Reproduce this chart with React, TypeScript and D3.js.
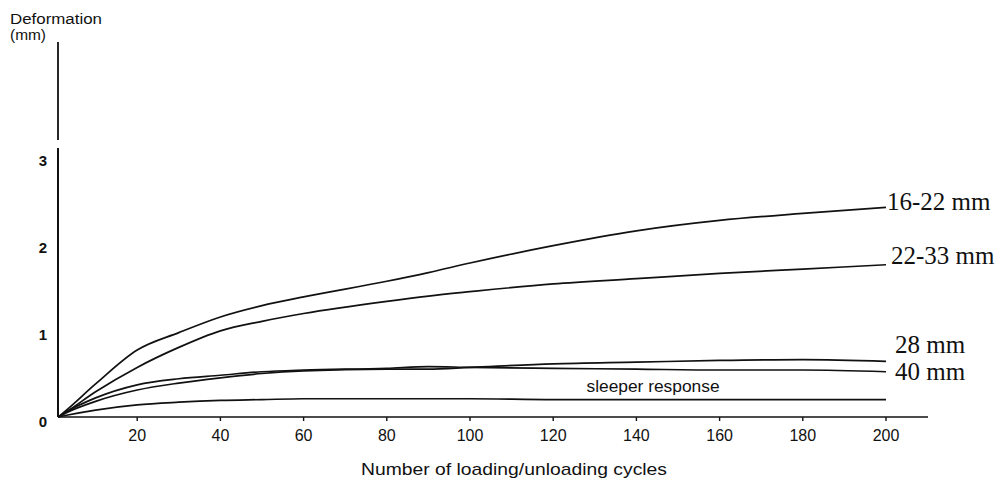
import React from "react";
import * as d3 from "d3";

const cycles = [1, 3, 10, 20, 30, 40, 50, 60, 80, 90, 100, 120, 140, 160, 180, 200];
const s1622 = [0, 0.08, 0.38, 0.77, 0.97, 1.15, 1.28, 1.38, 1.56, 1.66, 1.77, 1.97, 2.14, 2.26, 2.34, 2.41];
const s2233 = [0, 0.06, 0.29, 0.57, 0.8, 0.99, 1.1, 1.19, 1.33, 1.39, 1.44, 1.53, 1.59, 1.65, 1.7, 1.75];
const s28 = [0, 0.05, 0.18, 0.31, 0.39, 0.45, 0.5, 0.53, 0.55, 0.55, 0.57, 0.61, 0.63, 0.65, 0.66, 0.64];
const s40 = [0, 0.06, 0.22, 0.37, 0.44, 0.48, 0.52, 0.54, 0.56, 0.58, 0.57, 0.56, 0.55, 0.54, 0.54, 0.52];
const sSleeper = [0, 0.02, 0.08, 0.14, 0.17, 0.19, 0.2, 0.21, 0.21, 0.21, 0.21, 0.2, 0.2, 0.2, 0.2, 0.2];

const seriesNames = ["16-22 mm", "22-33 mm", "28 mm", "40 mm", "sleeper response"];
const seriesValues = [s1622, s2233, s28, s40, sSleeper];

const xTicks = [20, 40, 60, 80, 100, 120, 140, 160, 180, 200];
const yTicks = [0, 1, 2, 3];

// label placement offsets (styles, not data)
const labelOffsets = [
  { dx: 1, dy: 3 },
  { dx: 5, dy: -1 },
  { dx: 9, dy: -8 },
  { dx: 9, dy: 8 },
];

export default function App() {
  const W = 1003;
  const H = 484;
  const x = d3.scaleLinear().domain([0, 200]).range([54, 886]);
  const y = d3.scaleLinear().domain([0, 3]).range([417, 156]);
  const axisX = 58;

  const line = d3
    .line<[number, number]>()
    .x((d) => x(d[0]))
    .y((d) => y(d[1]))
    .curve(d3.curveMonotoneX);

  const sans = "'Liberation Sans', Arial, Helvetica, sans-serif";
  const serif = "'Liberation Serif', 'Times New Roman', serif";

  return (
    <svg
      width={W}
      height={H}
      style={{ position: "absolute", left: 0, top: 0, background: "#fff" }}
    >
      <rect x={0} y={0} width={W} height={H} fill="#fff" />
      {/* y axis title */}
      <text x={10} y={24} fontFamily={sans} fontSize={14} textLength={92} lengthAdjust="spacingAndGlyphs" fill="#111">
        Deformation
      </text>
      <text x={10} y={40} fontFamily={sans} fontSize={14} textLength={36} lengthAdjust="spacingAndGlyphs" fill="#111">
        (mm)
      </text>
      {/* broken y axis */}
      <line x1={axisX} x2={axisX} y1={42} y2={140} stroke="#111" strokeWidth={1.8} />
      <line x1={axisX} x2={axisX} y1={148} y2={y(0)} stroke="#111" strokeWidth={2} />
      {yTicks.map((t) => (
        <text
          key={t}
          x={47}
          y={y(t) + 4}
          textAnchor="end"
          dominantBaseline="central"
          fontFamily={sans}
          fontSize={15}
          fontWeight={700}
          fill="#111"
        >
          {t}
        </text>
      ))}
      {/* x axis */}
      <line x1={axisX} x2={928} y1={y(0)} y2={y(0)} stroke="#111" strokeWidth={1.6} />
      {xTicks.map((t) => (
        <g key={t}>
          <line x1={x(t)} x2={x(t)} y1={y(0)} y2={y(0) + 4} stroke="#111" strokeWidth={1.4} />
          <text
            x={x(t)}
            y={441}
            textAnchor="middle"
            fontFamily={sans}
            fontSize={16}
            fill="#111"
          >
            {t}
          </text>
        </g>
      ))}
      <text
        x={361}
        y={475}
        fontFamily={sans}
        fontSize={17}
        textLength={306}
        lengthAdjust="spacingAndGlyphs"
        fill="#111"
      >
        Number of loading/unloading cycles
      </text>
      {/* curves */}
      {seriesValues.map((vals, i) => (
        <path
          key={seriesNames[i]}
          d={line(cycles.map((c, j) => [c, vals[j]] as [number, number])) || ""}
          fill="none"
          stroke="#111"
          strokeWidth={1.7}
        />
      ))}
      {/* end labels */}
      {labelOffsets.map((o, i) => {
        const vals = seriesValues[i];
        return (
          <text
            key={seriesNames[i]}
            x={x(cycles[cycles.length - 1]) + o.dx}
            y={y(vals[vals.length - 1]) + o.dy}
            fontFamily={serif}
            fontSize={25}
            fill="#111"
          >
            {seriesNames[i]}
          </text>
        );
      })}
      <text
        x={x(144)}
        y={392}
        textAnchor="middle"
        fontFamily={sans}
        fontSize={16}
        textLength={133}
        lengthAdjust="spacingAndGlyphs"
        fill="#111"
      >
        {seriesNames[4]}
      </text>
    </svg>
  );
}
